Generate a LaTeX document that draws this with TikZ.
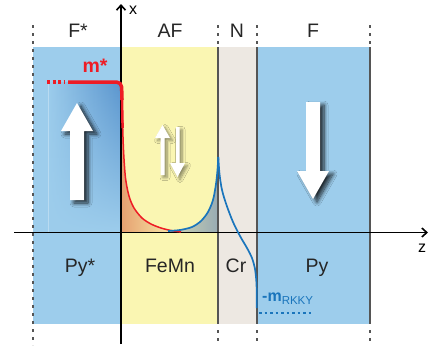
\documentclass[tikz,border=0pt]{standalone}
\usepackage{fontspec}
\setmainfont{Liberation Sans}
\usepackage{tikz}
\usetikzlibrary{arrows.meta, positioning, fadings, shadows.blur}

\definecolor{fblue}{HTML}{9DCDEC}
\definecolor{fdark}{HTML}{5A95CE}
\definecolor{afyellow}{HTML}{FAF6B2}
\definecolor{ngray}{HTML}{EDE8E2}
\definecolor{edgegray}{HTML}{555555}
\definecolor{mred}{HTML}{EE1C25}
\definecolor{mblue}{HTML}{1A75BC}
\definecolor{tailorange}{HTML}{E6A070}
\definecolor{tailgray}{HTML}{98ABB3}

\begin{document}
\begin{tikzpicture}[x=1pt, y=-1pt,
	axis/.style={line width=1.6pt, -{Straight Barb[length=5pt, width=9pt]}},
	edge/.style={line width=1.4pt, edgegray},
	tick/.style={line width=1.4pt, edgegray, dash pattern=on 3pt off 5pt},
	layer/.style={font=\fontsize{19.5}{22}\selectfont, anchor=base, text=black!85},
	spin/.style={fill=white, blur shadow={shadow xshift=4pt, shadow yshift=-3pt, shadow blur radius=4pt, shadow blur steps=8, shadow opacity=80}},
	spinsmall/.style={fill=white, blur shadow={shadow xshift=2.5pt, shadow yshift=-2.5pt, shadow blur radius=3pt, shadow blur steps=6, shadow opacity=45}}]
	\useasboundingbox (0,0) rectangle (429,349);
	% Layers:
	\fill[fblue] (33,47) rectangle (121,324);
	\fill[afyellow] (121,47) rectangle (218,324);
	\fill[ngray] (218,47) rectangle (257,324);
	\fill[fblue] (257,47) rectangle (370,324);
	\shade[left color=fblue, right color=fdark, path fading=south] (47,82) rectangle (121,232);
	\draw[white, opacity=0.3, line width=0.8pt] (48,82) -- (48,232);
	% Tails of the magnetisation:
	\shade[left color=tailorange, right color=afyellow] (121,90) -- plot[smooth] coordinates {(122.5,120) (123.5,150) (125.5,178) (129,196) (134,208) (142,218) (151,224) (161,228) (171,230.5) (181,232)} -- (121,232) -- cycle;
	\shade[left color=afyellow!60!tailgray, right color=tailgray] (168,232) -- plot[smooth] coordinates {(168,231) (180,230) (192,227) (201,221) (208,212) (213,200) (216,184) (217.5,170) (218.3,157)} -- (218.3,232) -- cycle;
	% Boundaries:
	\draw[tick] (33,25) -- (33,345);
	\foreach \xb in {218,257,370}{
		\draw[tick] (\xb,25) -- (\xb,47);
		\draw[edge] (\xb,47) -- (\xb,324);
		\draw[tick] (\xb,330) -- (\xb,345);
	}
	% Axes:
	\coordinate (zfrom) at (14,232.5);
	\coordinate (zto) at (428,232.5);
	\coordinate (xfrom) at (121,344);
	\coordinate (xto) at (121,4);
	\draw[axis] (zfrom) -- (zto);
	\draw[axis] (xfrom) -- (xto);
	\node[font=\fontsize{16}{18}\selectfont, anchor=base] (xlbl) at (133,14) {x};
	\node[font=\fontsize{16}{18}\selectfont, anchor=base] (zlbl) at (422,252) {z};
	% Curves:
	\draw[mred, line width=1.5pt] plot[smooth] coordinates {(122.5,120) (123.5,150) (125.5,178) (129,196) (134,208) (142,218) (151,224) (161,228) (171,230.5) (181,232)};
	\draw[mred, line width=3.5pt, dash pattern=on 3pt off 2.5pt] (47,82) -- (64,82);
	\draw[mred, line width=3.5pt, rounded corners=5pt] (68,82) -- (121.5,82) -- (122,100);
	\draw[mred, line width=2.5pt] (122,98) -- (122.6,128);
	\draw[mblue, line width=1.7pt] plot[smooth] coordinates {(168,231) (180,230) (192,227) (201,221) (208,212) (213,200) (216,184) (217.5,170) (218.3,157)};
	\draw[mblue, line width=1.7pt] plot[smooth] coordinates {(218.3,157) (219.5,174) (222,190) (226.5,205) (233,222) (240,236) (247,248) (252,258) (255,269) (256.4,282) (256.8,296) (256.8,308)};
	\draw[mblue, line width=2.5pt, dash pattern=on 2.5pt off 3pt] (259,313) -- (311,313);
	\node[font=\fontsize{19.5}{22}\selectfont\bfseries, text=mred, anchor=base] (mstar) at (95,72) {m*};
	\node[text=mblue, anchor=base west, inner sep=0pt] (mrkky) at (262,301) {{\fontsize{16}{18}\selectfont\bfseries -m}{\fontsize{11.5}{13}\selectfont\raisebox{-3.5pt}{RKKY}}};
	% Spins:
	\fill[spin] (70,200) -- (70,131) -- (61,131) -- (77,103) -- (93,131) -- (84,131) -- (84,200) -- cycle;
	\fill[spin] (306,102) -- (306,171) -- (297,171) -- (313,199) -- (329,171) -- (320,171) -- (320,102) -- cycle;
	\fill[spinsmall] (160.5,175) -- (160.5,138) -- (155,138) -- (162.5,125) -- (170,138) -- (164.5,138) -- (164.5,175) -- cycle;
	\fill[spinsmall] (176,127) -- (176,163) -- (170,163) -- (177.5,177) -- (185,163) -- (179.5,163) -- (179.5,127) -- cycle;
	% Labels:
	\node[layer] (fstar) at (78,37) {F*};
	\node[layer] (af) at (170,37) {AF};
	\node[layer] (n) at (237,37) {N};
	\node[layer] (f) at (313,37) {F};
	\node[layer] (pystar) at (80,272) {Py*};
	\node[layer] (femn) at (170,272) {FeMn};
	\node[layer] (cr) at (236,272) {Cr};
	\node[layer] (py) at (317,272) {Py};
\end{tikzpicture}
\end{document}
